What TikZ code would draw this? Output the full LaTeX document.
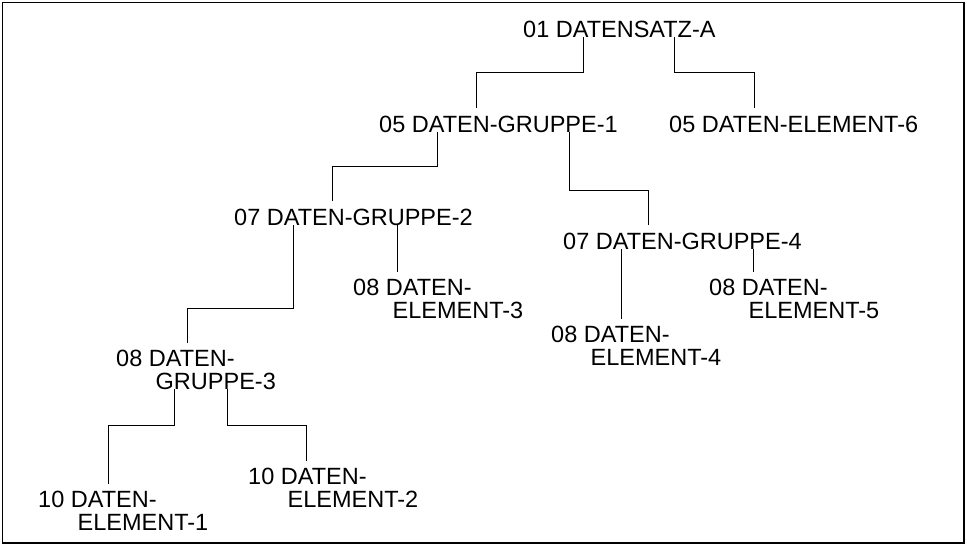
\documentclass[tikz,border=0pt]{standalone}
\usepackage{fontspec}
\setmainfont{Liberation Sans}
\newcommand{\nextln}{\\\hspace*{39.5pt}}
\begin{document}
\begin{tikzpicture}[x=1pt,y=1pt,
		entry/.style={anchor=base west,inner sep=0pt,align=left,font=\fontsize{23.5}{22.7}\selectfont},
		link/.style={line width=0.9pt}]
	\useasboundingbox (0,0) rectangle (967,-546);
	\draw [line width=1.8pt] (2.5,-2.5) rectangle (964,-543);
	
	\begin{scope}[every node/.style={entry}]
		\node (satz) at (523,-37) {01 DATENSATZ-A};
		\node (gruppe1) at (379,-132) {05 DATEN-GRUPPE-1};
		\node (element6) at (669,-132) {05 DATEN-ELEMENT-6};
		\node (gruppe2) at (234,-225) {07 DATEN-GRUPPE-2};
		\node (gruppe4) at (563,-249) {07 DATEN-GRUPPE-4};
		\node (element3) at (353,-318) {08 DATEN-\nextln ELEMENT-3};
		\node (element5) at (709,-318) {08 DATEN-\nextln ELEMENT-5};
		\node (element4) at (551,-365) {08 DATEN-\nextln ELEMENT-4};
		\node (gruppe3) at (116,-389) {08 DATEN-\nextln GRUPPE-3};
		\node (element1) at (38,-530) {10 DATEN-\nextln ELEMENT-1};
		\node (element2) at (248,-507) {10 DATEN-\nextln ELEMENT-2};
	\end{scope}
	
	\begin{scope}[link]
		\draw ([xshift=60pt]satz.base west) -- ++(0,-35) -| ([xshift=97pt,yshift=24pt]gruppe1.base west);
		\draw ([xshift=151pt]satz.base west) -- ++(0,-35) -| ([xshift=85pt,yshift=24pt]element6.base west);
		\draw ([xshift=58pt]gruppe1.base west) -- ++(0,-34) -| ([xshift=98pt,yshift=24pt]gruppe2.base west);
		\draw ([xshift=190pt]gruppe1.base west) -- ++(0,-58) -| ([xshift=85pt,yshift=24pt]gruppe4.base west);
		\draw ([xshift=59pt]gruppe2.base west) -- ++(0,-83) -| ([xshift=71pt,yshift=46.5pt]gruppe3.base west);
		\draw ([xshift=163pt]gruppe2.base west) -- ([xshift=44pt,yshift=46.5pt]element3.base west);
		\draw ([xshift=58pt]gruppe4.base west) -- ([xshift=70pt,yshift=46.5pt]element4.base west);
		\draw ([xshift=190pt]gruppe4.base west) -- ([xshift=44pt,yshift=46.5pt]element5.base west);
		\draw ([xshift=58pt]gruppe3.base west) -- ++(0,-36) -| ([xshift=70pt,yshift=46.5pt]element1.base west);
		\draw ([xshift=111pt]gruppe3.base west) -- ++(0,-36) -| ([xshift=58pt,yshift=46.5pt]element2.base west);
	\end{scope}
\end{tikzpicture}
\end{document}
